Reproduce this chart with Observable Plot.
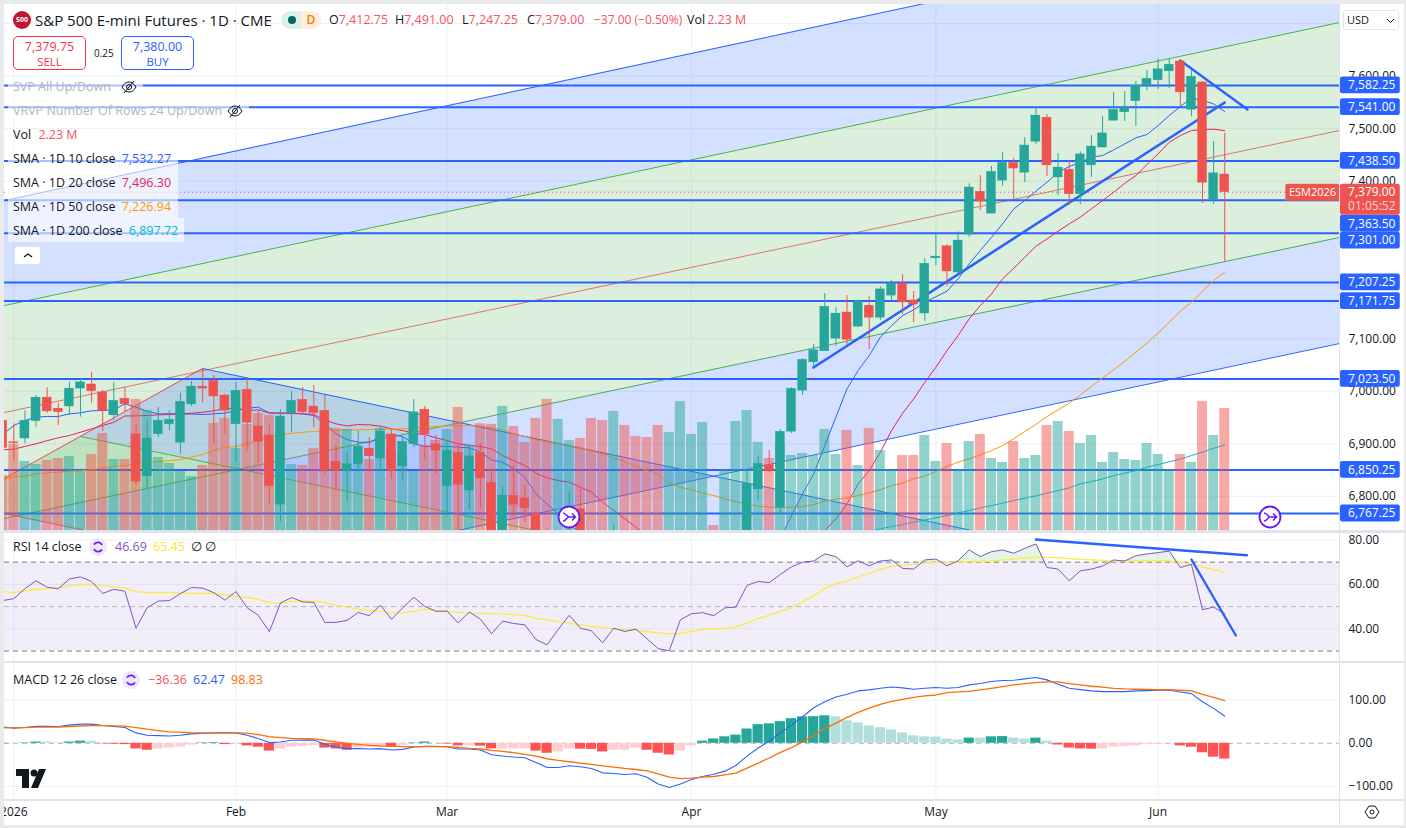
<!DOCTYPE html>
<html><head><meta charset="utf-8">
<script src="https://cdn.jsdelivr.net/npm/d3@7"></script>
<script src="https://cdn.jsdelivr.net/npm/@observablehq/plot@0.6"></script>
<style>
html,body{margin:0;padding:0;background:#e9eaec;width:1406px;height:828px;overflow:hidden}
#frame{position:absolute;left:4px;top:4px;width:1400px;height:821px;background:#fff;overflow:hidden}
#root{position:absolute;left:0;top:0;width:1406px;height:828px;font-family:"Open Sans",sans-serif;color:#131722;overflow:hidden}
#root svg.plot{position:absolute;left:0}
.t{position:absolute;white-space:nowrap;font-size:12.5px;line-height:16px}
.bg{position:absolute;background:rgba(255,255,255,.6)}
.sep{position:absolute;background:#e0e3eb}
.box{position:absolute;border-radius:5px;background:#fff;text-align:center;box-sizing:border-box}
</style></head><body>
<div id="frame"></div>
<div id="root"></div>
<script>
// ---------- price pane data: index -1 .. 109 (daily bars) ----------
const opens=[6944,6903,6910,6943,6988,6967,6971,7005,7013,6998,6954,
 6986,6918,6838,6918,6937,6902,6975,7009,7020,6992,
 6937,7003,6933,6916,6784,6958,6984,6971,6963,6866,
 6849,6861,6891,6872,6918,6857,6899,6965,6899,6819,
 6883,6811,6883,6826,6715,6801,6796,6766.6,6700,6670,
 6690,6775.5,6690,6660,6640,6700,6660,6650,6620,6560,
 6590,6670,6680,6700,6690,6700,6690,6813,6859,6778,
 6923,7001,7055,7076,7100,7150,7123,7163,7140,7182,
 7205,7173,7148,7253,7276,7226,7298,7380,7338,7401,
 7435,7416,7475,7521,7407,7422,7375,7430,7464,7515,
 7531,7552,7582,7592,7609,7628,7536,7588,7365,7412.75];
const closes=[6892,6901,6944,6988,6961.5,6960,7005,7017,7000,6963,6982,
 6975,6828,6910,6944,6946,6980,7009,7005,6990,6963,
 7001,6940,6904,6819,6952,6982,6960,6958,6849,6849,
 6861,6895,6876,6923,6849,6904,6960,6918,6887,6887,
 6822,6876,6834,6715,6801.5,6784,6777,6705,6670,6700,
 6725,6690,6660,6640,6700,6660,6650,6620,6580,6590,
 6670,6690,6700,6698,6710,6720,6823.7,6862,6849,6923,
 7005,7060,7078,7161,7148,7098,7171,7140,7194,7205,
 7169,7165,7243,7256.5,7228,7287,7388,7361,7418,7435,
 7424,7468,7525,7430,7426,7375,7451,7466,7491,7536,
 7540,7582,7595,7613,7622,7569,7599,7397,7415,7379];
const highs=[6954,6938,6963,6992,7007,6977,7017,7024,7036,7001.5,7017,
 7007,6935,6944,6969,6963,6996,7018.6,7043,7030,6994,
 7017,7026,6963,6935,6965,7000,7007,7011,6992,6897,
 6885,6925,6912,6931,6927,6912,6984,6971,6916,6906,
 6897,6897,6900.5,6853,6818.6,6858.6,6822,6768,6738,6725,
 6809,6813,6710,6700,6747,6720,6700,6670,6640,6600,
 6680,6700,6720,6705,6720,6730,6847,6876,6887,6927,
 7007,7062,7089,7186,7159,7182,7173,7180,7199,7211,
 7222,7190,7252,7300,7279,7303.5,7395,7411,7428,7454.5,
 7443,7483,7538,7527,7452.6,7439,7456,7487,7523,7569,
 7571,7590,7611,7632,7632,7630,7611,7590,7475.5,7491];
const lows=[6881,6867,6900,6932,6958,6935,6954,6951,6977,6923,6944,
 6961,6822.5,6815,6912,6925,6880,6971,6977,6899,6918,
 6864,6885,6862.5,6784.4,6752,6921.5,6958,6931,6841.5,6811,
 6790,6849,6847,6847,6832,6828,6893,6870,6841.5,6763,
 6735,6773,6776.7,6690,6680,6761.5,6750,6680,6650,6650,
 6670,6660,6640,6620,6620,6640,6620,6600,6560,6550,
 6580,6650,6660,6695,6660,6680,6670,6792,6845,6768.5,
 6919.5,6992,7044.6,7075.7,7085,7087,7121.4,7079.5,7134.7,7171,
 7146,7131,7133,7239,7199.4,7223.5,7293,7344,7338,7390,
 7364,7397,7470,7409,7373,7354,7355.5,7407,7464,7515.5,
 7513.6,7504,7572.6,7574.5,7576.4,7539.6,7523,7357.4,7355.5,7247.25];
const volumes=[1.005,1.572,1.261,1.206,1.28,1.316,1.353,1.078,1.389,1.773,1.298,
 1.298,2.395,2.193,1.334,1.225,1.078,0.987,1.188,1.956,2.047,
 1.499,1.938,2.139,2.102,1.791,1.206,1.188,1.499,1.864,1.864,
 1.846,1.353,1.298,1.864,1.462,1.389,1.078,1.554,1.645,1.846,
 2.248,1.554,1.95,1.938,2.267,1.901,1.609,2.047,2.395,2.029,
 1.645,1.682,2.047,2.011,2.175,1.919,1.718,1.7,1.919,1.791,
 2.358,1.755,1.974,0.091,1.115,1.992,2.193,1.609,1.316,1.554,
 1.371,1.407,1.371,1.846,1.389,1.828,1.188,1.864,1.462,1.115,
 1.371,1.371,1.736,1.261,1.59,1.115,1.627,1.755,1.316,1.243,
 1.627,1.316,1.371,1.919,1.992,1.81,1.59,1.736,1.243,1.426,
 1.298,1.28,1.59,1.389,1.115,1.389,1.243,2.358,1.736,2.23];
const _=null;
const sma10=[6917.7,6934.8,6944.4,6950.7,6952,6952,6957,6959,6962.8,6963.4,6964.7,
 6976,6969.7,6962,6957,6957,6957,6956.4,6955.8,6957,6958.3,
 6963.4,6967.8,6969.7,6959,6958.3,6958.3,6957,6953.9,6938,6919,
 6908,6903,6903,6912.6,6917.7,6913.9,6900,6895,6895,6895,
 6893.6,6892.3,6884,6869.4,6865,6852.3,6836.4,6804.7,6785.6,6766.6,
 6747.5,6728.5,_,_,_,_,_,_,_,_,
 _,_,_,_,_,_,_,_,_,6720,
 6763,6804.7,6842.7,6896.7,6950.6,7004.6,7039.5,7068,7103,7125,
 7144,7155,7169.6,7180,7190.5,7214,7242.6,7268,7293,7318.7,
 7347,7363,7380.9,7398,7417,7427.9,7435.5,7445.7,7448.8,7459.6,
 7471,7482.5,7488.8,7505.9,7525,7542,7558.6,7553.6,7547.2,7532.27];
const sma20=[6888.5,6889.8,6895,6900,6906,6911.4,6915.8,6922,6928.5,6934.8,6941,
 6953,6953,6953.9,6955,6955.8,6957,6958.3,6960,6963,6966.6,
 6967.8,6963,6964.7,6958.3,6958.3,6958.3,6957,6955.8,6945.6,6938,
 6934,6936.7,6936,6933.6,6928.5,6925.3,6920,6917.7,6911.4,6906,
 6900,6897.4,6894.8,6890.3,6877.6,6868,6858.6,6844,6835,6830,
 6826.9,6817.3,6807.8,6788.8,6773,6757,6741,6725.3,_,_,
 _,_,_,_,_,_,_,_,_,_,
 _,_,_,6735,6757,6785.6,6823.7,6849,6884,6925,
 6958,6985.5,7017,7045.8,7077.6,7106,7137.9,7163.3,7185,7214,
 7234,7255,7276,7290,7304.8,7318.7,7331.4,7347.3,7363,7379,
 7396,7410.7,7431.7,7452,7474,7486.9,7496.4,7498.3,7499,7496.3];
const sma50=[6832.7,6836.5,6838.4,6842.8,6844.7,6846,6847.9,6848.5,6850.4,6854,6856.8,
 6858.7,6860.6,6863.7,6866,6868,6870,6874.5,6879.6,6887,6893.6,
 6894.8,6900,6906,6914,6917.7,6920,6922,6923.4,6925.3,6926,
 6926.6,6926.8,6927,6927.4,6927.8,6928.5,6929.8,6931.7,6933,6933.6,
 6934.2,6934.2,6934,6930.3,6926.5,6918.9,6913.8,6907.5,6903.7,6899.9,
 6894.8,6891,6885.9,6880.8,6873.2,6866.2,6856.7,6849,6841.5,6825,
 6817.3,6812.3,6806,6801.5,6795.1,6789.4,6785.6,6781.2,6779.3,6778.6,
 6779.3,6780.5,6784.3,6790.7,6794.5,6797,6801.5,6806.6,6812.3,6820.5,
 6825,6833.2,6838.3,6847.2,6856.7,6865,6871.3,6879,6887,6896.7,
 6909.4,6923.3,6936.7,6951.9,6964.6,6977.3,6993.2,7009,7025.5,7040.8,
 7057.3,7074.4,7091.5,7110.6,7131.5,7152.5,7169.6,7190.5,7210.9,7226.94];
const sma200Start=77;
const sma200=[6733,6738,6742.4,6746,6750.7,6755,6759,6763.4,6768.5,6773,6778,6782.4,6786.9,6792,6796.4,6800.8,
 6806,6811,6816,6823.7,6828,6833,6839.6,6844,6849,6855.4,6860.5,6865.6,6870.7,6877.6,6884,6891.6,6897.72];
const priceTicks=[7600,7500,7400,7100,7000,6900,6800];
const gridPrices=[7700,7600,7500,7400,7300,7200,7100,7000,6900,6800];
const monthIdx=[0,20,39,61,83,103];
const monthLabels=["2026","Feb","Mar","Apr","May","Jun"];
const levels=[7582.25,7541,7438.5,7363.5,7301,7207.25,7171.75,7023.5,6850.25,6767.25];
const levelLabelAt=[7582.25,7541,7438.5,7319,7287,7207.25,7171.75,7023.5,6850.25,6767.25];
// channel anchors at left / right edge of the pane
const edgeX=[-0.84,119.33];
const chTop=[7363.2,7907.4], chUp=[7163.3,7702.1], chMid=[6959.6,7496.5], chLow=[6757.7,7292.8], chBot=[6552.1,7090.9];
// descending fan
const fanX=[6,16.98,88.8], fanTop=[6913.9,7043.3,6723.5], fanMid=[6913.9,6866.3,6552.1];
const fan2X=[-0.84,6,88.8], fan2Top=[6833.9,6913.9,6552.1], fan2Bot=[6767.3,6736.8,6367];
const trendRise={x:[71.98,109],y:[7045.2,7549.8]};
const trendFall={x:[105,111.05],y:[7629.8,7536.5]};
// ---------- RSI ----------
const rsi=[52.7,53.6,58.1,61.6,58.7,58.1,62.4,63.4,61.3,55.9,57.8,
 56.9,40.3,49.5,52.5,52.7,55.9,58.6,58.3,56.3,52.9,
 56.8,49.5,46.1,38.7,51.6,54.1,52.1,51.9,42.9,42.9,
 43.8,47.4,45.9,50.6,44.3,49.4,54.2,50.1,47.9,48,
 42.6,47.6,44.3,37.8,43.5,42.4,41.8,35.2,32.8,39.7,
 46.1,40.3,39.1,33.7,40.3,38.8,39.9,35.5,31.1,30.1,
 44.1,46.8,47.3,45.9,49.4,49.8,59.6,61.3,60.8,64.5,
 67.9,70,70.5,73.7,72.5,67.9,70.6,68.4,70.5,71,
 67.2,66.9,71,71.4,68.4,70.6,75.5,72.5,74.7,75.5,
 74,76.2,78.2,67.6,66.9,61.6,66.1,66.9,68.2,71,
 70.5,72.9,73.7,74.3,75,67.6,69,48.6,49.8,46.69];
const rsiMA=[56.8,56.3,57.1,57.7,58,58.4,59.3,59.9,60.1,59.3,58.9,
 58.3,56.8,56.3,56.3,56.3,56.2,56,56,55.9,55.3,
 54.7,54.1,53.3,51.8,51.5,52.4,52.5,52.5,51.8,50.7,
 49.8,48.9,48.3,47.9,47.1,47.3,47.9,48.8,48.3,47.9,
 47.4,47.1,47,46.8,46.7,46.4,45.9,44.7,44,43.2,
 42.6,41.8,41.1,40.5,40,39.6,39.3,38.8,38.2,37.6,
 37.9,38.8,39.7,39.9,40.2,40.9,42.6,44.6,46.2,47.9,
 49.5,52.1,54.8,58.1,60.4,61.6,63.3,64.9,66.7,68.1,
 68.7,69,69.7,69.9,69.9,70,70.2,70.3,70.5,71,
 71.4,71.9,72.2,72.2,72,71.6,71.3,71,70.8,70.6,
 70.6,70.6,70.6,70.6,70.6,69.9,69.1,67.9,66.7,65.45];
const rsiTicks=[80,60,40];
const rsiBands=[70,50,30];
const rsiTrendA={x:[92,111],y:[80.2,73.1]};
const rsiTrendB={x:[106,110],y:[71.2,37]};
// ---------- MACD ----------
const macdHist=[-1,-1,1,3,3,1,3,5,4.5,-1,-2,
 -3,-13,-16,-13,-11,-9,-4,1,1.5,-3,
 -1.5,-6,-9,-18,-13,-9,-7,-5,-11,-13,
 -16,-11,-9,-6,-9,-5,1,3,0.5,-1.5,
 -6,-6,-6.5,-13,-13,-13,-13,-18,-23,-20,
 -13,-13.5,-14,-20,-16,-16,-11,-16,-23,-27,
 -18,-6,5,10,15,19,33,43,45,50,
 57,61,61.5,63.5,61,52,47,40,36,31,
 24,17,15,14.5,10,8,12,12,15,15.5,
 12,10,12,5,-4,-11,-13,-13.5,-13,-8.5,
 -8,-6,-3,-3,-1,-6,-9,-22,-32,-36.36];
const macdLine=[38,34.9,36.4,39.5,39,38.8,41.9,44.2,44.2,41,38.8,
 36.4,24,18.6,17.8,17,18.6,21.7,23.3,24,24,
 24,18.6,10.9,1.6,3.1,7,7.4,7.8,-2.3,-9.3,
 -12.4,-12.4,-13.2,-12.4,-15.5,-14,-8.5,-7,-7,-7.8,
 -13.2,-13.2,-15.5,-26.4,-29.5,-31.8,-33.3,-44.2,-55.8,-55.8,
 -51.9,-54.3,-58.1,-68.2,-69.8,-72.1,-70.5,-78.3,-93.8,-102.3,
 -93.8,-83.7,-76.7,-71.3,-64.3,-51.2,-29.5,-10.9,4.7,24,
 41.9,61.2,82.2,96,107,113.2,121,123.3,127,130,
 128,124.8,127,128.7,127,128.7,135,138,142.6,145,
 145.7,148.8,152,146.5,136.4,127,124,121,119.4,119.4,
 119.4,121,121.7,122.5,122.5,118.6,114.7,96,80.6,62.47];
const macdSignal=[35.7,36,36.4,37.2,37.2,37.6,38.8,40,41,41,40.3,
 39.5,36.4,32.6,29.5,26.4,25.6,24,24,24,24,
 24,23.3,20,15.5,13.2,11.6,10.9,10,7,3.1,
 0,-2.3,-4.7,-6.2,-7,-7.8,-7.8,-7.8,-7.8,-7.8,
 -9.3,-11.6,-13.2,-16.3,-18.6,-21.7,-25.6,-29.5,-35.7,-39.5,
 -42.6,-45.7,-48.8,-51.9,-55,-58.1,-60.5,-63.6,-70.5,-78.3,
 -81.4,-80.6,-78.3,-76.7,-72.9,-69,-57.4,-45.7,-34,-21,
 -10,3.1,17,34,46.5,59.7,71.3,81.4,90,97,
 101.6,106.2,109.3,111.6,117,118.6,120,123.3,127,131,
 134.9,138,140.3,141.9,141.9,138,135,131.8,129.5,127,
 125.6,124.8,124.4,124,124,122.5,121,113,106.2,98.83];
const macdTicks=[100,0,-100];

for (const a of [opens,closes,highs,lows,volumes,sma10,sma20,sma50,rsi,rsiMA,macdHist,macdLine,macdSignal])
  if(a.length!==111) throw new Error("length "+a.length+" "+a.slice(0,2));

const UP="#26a69a",DOWN="#ef5350",BLUE="#2962ff",GRID="#eef0f5";
const FONT='"Open Sans",sans-serif';
const idx=d3.range(-1,110);
const bars=idx.map((i,k)=>({i,o:opens[k],c:closes[k],h:highs[k],l:lows[k],v:volumes[k],up:closes[k]>=opens[k]}));
const xScale={type:"linear",domain:edgeX,axis:null};
const fmt2=d3.format(",.2f");
const minus=s=>s.replace("-","−");
const root=document.getElementById("root");
function mount(svg,top){svg.classList.add("plot");svg.style.top=top+"px";svg.style.position="absolute";svg.style.background="transparent";svg.style.overflow="visible";root.appendChild(svg);}
const series=(arr,start=-1)=>arr.map((v,k)=>({i:k+start,v})).filter(d=>d.v!=null);
const pair=(xs,ys)=>xs.map((x,k)=>({x,y:ys[k]}));
const band=(xs,a,b)=>xs.map((x,k)=>({x,a:a[k],b:b[k]}));

// ---- main pane -----
const yMain=[6734.9,7736.4];
const volBase=yMain[0], volK=104.2;
const vline=(arr,stroke,w=1,op=1)=>Plot.line(series(arr,arr===sma200?sma200Start:-1),{x:"i",y:"v",stroke,strokeWidth:w,strokeOpacity:op,clip:true,curve:"linear"});
const chEdge=(ys,stroke,op=1)=>Plot.line(pair(edgeX,ys),{x:"x",y:"y",stroke,strokeWidth:1,strokeOpacity:op,clip:true});
const main=Plot.plot({
  width:1406,height:526,marginLeft:4,marginRight:67,marginTop:0,marginBottom:0,
  style:{fontFamily:FONT,fontSize:"12px",color:"#131722"},
  x:xScale,y:{domain:yMain,axis:null},
  marks:[
    Plot.ruleY(gridPrices,{stroke:GRID,clip:true}),
    Plot.ruleX(monthIdx,{stroke:GRID,clip:true}),
    Plot.areaY(band(edgeX,chTop,chUp),{x:"x",y1:"a",y2:"b",fill:BLUE,fillOpacity:.2,clip:true}),
    Plot.areaY(band(edgeX,chUp,chLow),{x:"x",y1:"a",y2:"b",fill:"#4caf50",fillOpacity:.2,clip:true}),
    Plot.areaY(band(edgeX,chLow,chBot),{x:"x",y1:"a",y2:"b",fill:BLUE,fillOpacity:.2,clip:true}),
    Plot.areaY(band(fanX,fanTop,fanMid),{x:"x",y1:"a",y2:"b",fill:BLUE,fillOpacity:.2,clip:true}),
    Plot.areaY(band(fan2X,fan2Top,fan2Bot),{x:"x",y1:"a",y2:"b",fill:"#4caf50",fillOpacity:.2,clip:true}),
    chEdge(chTop,BLUE),chEdge(chUp,"#4caf50"),chEdge(chMid,"#e0564e",.8),chEdge(chLow,"#4caf50"),chEdge(chBot,BLUE),
    Plot.line(pair([fanX[1],fanX[2]],[fanTop[1],fanTop[2]]),{x:"x",y:"y",stroke:BLUE,strokeWidth:1,clip:true}),
    Plot.line(pair(fanX,fanMid),{x:"x",y:"y",stroke:"#4caf50",strokeWidth:1,clip:true}),
    Plot.line(pair(fan2X,fan2Bot).filter((d,k)=>k!==1),{x:"x",y:"y",stroke:"#ef5350",strokeWidth:1,clip:true}),
    Plot.line(pair([edgeX[0],fanX[1]],[fan2Top[0],fanTop[1]]),{x:"x",y:"y",stroke:"#f2495c",strokeWidth:1,clip:true}),
    Plot.ruleY(levels,{stroke:BLUE,strokeWidth:2,clip:true}),
    Plot.ruleY([7379],{stroke:DOWN,strokeWidth:1,strokeDasharray:"1 3",clip:true}),
    Plot.line(pair(trendRise.x,trendRise.y),{x:"x",y:"y",stroke:BLUE,strokeWidth:2.6,clip:true}),
    Plot.line(pair(trendFall.x,trendFall.y),{x:"x",y:"y",stroke:BLUE,strokeWidth:2.4,clip:true}),
    vline(sma10,BLUE,1),vline(sma20,"#e91e63",1),vline(sma50,"#ff9800",1),vline(sma200,"#00bcd4",1),
    Plot.rect(bars,{x1:d=>d.i-.45,x2:d=>d.i+.45,y1:volBase,y2:d=>volBase+d.v*volK,fill:d=>d.up?UP:DOWN,fillOpacity:.5,clip:true}),
    Plot.ruleX(bars,{x:"i",y1:"l",y2:"h",stroke:d=>d.up?UP:DOWN,strokeWidth:1,clip:true}),
    Plot.rect(bars,{x1:d=>d.i-.41,x2:d=>d.i+.41,y1:"o",y2:"c",fill:d=>d.up?UP:DOWN,stroke:d=>d.up?UP:DOWN,strokeWidth:.3,clip:true}),
    // right price scale
    Plot.axisY(priceTicks,{anchor:"right",tickSize:0,tickPadding:9,tickFormat:fmt2,label:null,fill:"#131722",fontSize:12}),
    Plot.rect(levels.map((v,k)=>({v,at:levelLabelAt[k]})),{x1:119.42,x2:124.8,y1:d=>d.at-16,y2:d=>d.at+16,fill:BLUE,r:2}),
    Plot.text(levels.map((v,k)=>({v,at:levelLabelAt[k]})),{x:120.1,y:"at",text:d=>fmt2(d.v),fill:"#fff",textAnchor:"start",fontSize:12}),
    Plot.rect([7379],{x1:114.5,x2:119.33,y1:7379-17,y2:7379+15,fill:DOWN,r:2}),
    Plot.text(["ESM2026"],{x:116.9,y:[7379],fill:"#fff",fontSize:11}),
    Plot.rect([7379],{x1:119.42,x2:124.8,y1:7379-44,y2:7379+15,fill:DOWN,r:2}),
    Plot.text(["7,379.00"],{x:120.1,y:[7379],fill:"#fff",textAnchor:"start",fontSize:12}),
    Plot.text(["01:05:52"],{x:120.1,y:[7379-27],fill:"#ffd5d2",textAnchor:"start",fontSize:12})
  ]
});
mount(main,4);

// ---- RSI pane -----
const rsiData=idx.map((i,k)=>({i,r:rsi[k],m:rsiMA[k]}));
const rsiPlot=Plot.plot({
  width:1406,height:128,marginLeft:4,marginRight:67,marginTop:0,marginBottom:0,
  style:{fontFamily:FONT,fontSize:"12px",color:"#131722"},
  x:xScale,y:{domain:[25.3,82.9],axis:null},
  marks:[
    Plot.ruleY(rsiTicks,{stroke:GRID}),
    Plot.ruleX(monthIdx,{stroke:GRID,clip:true}),
    Plot.areaY(band(edgeX,[rsiBands[2],rsiBands[2]],[rsiBands[0],rsiBands[0]]),{x:"x",y1:"a",y2:"b",fill:"#7e57c2",fillOpacity:.1,clip:true}),
    Plot.ruleY([70,30],{stroke:"#787b86",strokeDasharray:"5 4",clip:true}),
    Plot.ruleY([50],{stroke:"#b2b5be",strokeDasharray:"5 4",clip:true}),
    Plot.areaY(rsiData,{x:"i",y1:70,y2:d=>Math.max(70,d.r),fill:"#4caf50",fillOpacity:.14,clip:true}),
    Plot.line(rsiData,{x:"i",y:"m",stroke:"#fdeb3f",strokeWidth:1.3,clip:true}),
    Plot.line(rsiData,{x:"i",y:"r",stroke:"#7e57c2",strokeWidth:1,clip:true}),
    Plot.line(pair(rsiTrendA.x,rsiTrendA.y),{x:"x",y:"y",stroke:BLUE,strokeWidth:2.4,clip:true}),
    Plot.line(pair(rsiTrendB.x,rsiTrendB.y),{x:"x",y:"y",stroke:BLUE,strokeWidth:2.4,clip:true}),
    Plot.axisY(rsiTicks,{anchor:"right",tickSize:0,tickPadding:9,tickFormat:fmt2,label:null,fill:"#131722",fontSize:12})
  ]
});
mount(rsiPlot,533);

// ---- MACD pane with the time axis -----
const macdData=idx.map((i,k)=>{const v=macdHist[k],p=k?macdHist[k-1]:0;
  return {i,v,line:macdLine[k],sig:macdSignal[k],
    col:v>=0?(v>p?UP:"#b2dfdb"):(v<p?"#ff5252":"#ffcdd2")};});
const macdPlot=Plot.plot({
  width:1406,height:162,marginLeft:4,marginRight:67,marginTop:0,marginBottom:26,
  style:{fontFamily:FONT,fontSize:"12px",color:"#131722"},
  x:xScale,y:{domain:[-129.8,184.3],axis:null},
  marks:[
    Plot.ruleY([100,-100],{stroke:GRID}),
    Plot.ruleX(monthIdx,{stroke:GRID,clip:true}),
    Plot.ruleY([0],{stroke:"#b2b5be",strokeDasharray:"5 4",clip:true}),
    Plot.rect(macdData,{x1:d=>d.i-.46,x2:d=>d.i+.46,y1:0,y2:"v",fill:"col",clip:true}),
    Plot.line(macdData,{x:"i",y:"line",stroke:BLUE,strokeWidth:1.1,clip:true}),
    Plot.line(macdData,{x:"i",y:"sig",stroke:"#ff6d00",strokeWidth:1.3,clip:true}),
    Plot.axisY(macdTicks,{anchor:"right",tickSize:0,tickPadding:9,tickFormat:d=>minus(fmt2(d)),label:null,fill:"#131722",fontSize:12}),
    Plot.axisX(monthIdx,{anchor:"bottom",tickSize:0,tickPadding:8,tickFormat:(d,k)=>monthLabels[monthIdx.indexOf(d)],label:null,fill:"#131722",fontSize:12})
  ]
});
mount(macdPlot,663);

// ---- overlays (legend, buttons, separators) -----
function div(cls,style,html){const d=document.createElement("div");d.className=cls;Object.assign(d.style,style);if(html!=null)d.innerHTML=html;root.appendChild(d);return d;}
const T=(x,y,s,col,extra={})=>div("t",Object.assign({left:x+"px",top:(y-8)+"px",color:col||"#131722"},extra),s);
// separators
div("sep",{left:"1339px",top:"4px",width:"1px",height:"821px"});
div("sep",{left:"4px",top:"530px",width:"1400px",height:"3px"});
div("sep",{left:"4px",top:"661px",width:"1400px",height:"2px"});
div("sep",{left:"4px",top:"799px",width:"1400px",height:"2px"});
// outer page strips
div("",{position:"absolute",left:"0",top:"0",width:"4px",height:"828px",background:"#e9eaec"});
div("",{position:"absolute",left:"0",top:"0",width:"1406px",height:"4px",background:"#e9eaec"});
div("",{position:"absolute",left:"1404px",top:"0",width:"2px",height:"828px",background:"#e9eaec"});
div("",{position:"absolute",left:"0",top:"825px",width:"1406px",height:"3px",background:"#e9eaec"});
// backdrops
div("bg",{left:"8px",top:"77px",width:"135px",height:"18px"});
div("bg",{left:"8px",top:"101px",width:"241px",height:"18px"});
div("bg",{left:"8px",top:"149px",width:"170px",height:"69px"});
div("bg",{left:"8px",top:"218px",width:"176px",height:"24px"});
// header
div("",{position:"absolute",left:"13px",top:"11px",width:"18px",height:"18px",borderRadius:"50%",background:"#c2152f",color:"#fff",fontSize:"7px",fontWeight:"700",textAlign:"center",lineHeight:"18px"},"500");
T(35,20,"S&amp;P 500 E-mini Futures · 1D · CME","#131722",{fontSize:"15px"});
div("",{position:"absolute",left:"281px",top:"11px",width:"20px",height:"18px",borderRadius:"9px 0 0 9px",background:"#daf0ec"});
div("",{position:"absolute",left:"288px",top:"16px",width:"8px",height:"8px",borderRadius:"50%",background:"#00695c"});
div("",{position:"absolute",left:"301px",top:"11px",width:"20px",height:"18px",borderRadius:"0 9px 9px 0",background:"#ffeedb",color:"#f57c00",fontSize:"12px",lineHeight:"18px",textAlign:"center",fontWeight:"600"},"D");
const R="#f7525f";
[[329,"O","7,412.75"],[395,"H","7,491.00"],[462,"L","7,247.25"],[527,"C","7,379.00"]].forEach(([x,a,b])=>T(x,20,`${a}<span style="color:${R}">${b}</span>`,"#131722",{fontSize:"12.5px"}));
T(594,20,"−37.00 (−0.50%)",R,{fontSize:"12px"});
T(687,20,`Vol<span style="color:${R};margin-left:2px">2.23 M</span>`,"#131722",{fontSize:"12.5px"});
// sell / buy
div("box",{left:"13px",top:"36px",width:"73px",height:"34px",border:"1px solid #f23645",color:"#f23645",fontSize:"12.5px",lineHeight:"15px",paddingTop:"2px"},"7,379.75<br><span style='font-size:11.5px'>SELL</span>");
T(94,53,"0.25","#131722",{fontSize:"10px"});
div("box",{left:"121px",top:"36px",width:"73px",height:"34px",border:"1px solid #2962ff",color:"#2962ff",fontSize:"12.5px",lineHeight:"15px",paddingTop:"2px"},"7,380.00<br><span style='font-size:11.5px'>BUY</span>");
// legend rows
const eye=(x,y)=>div("",{position:"absolute",left:(x-8)+"px",top:(y-8)+"px",width:"16px",height:"16px"},`<svg width="16" height="16" viewBox="0 0 16 16" fill="none" stroke="#131722" stroke-width="1"><path d="M1 8c2-3.5 4.5-5 7-5s5 1.500 7 5c-2 3.500-4.500 5-7 5s-5-1.500-7-5z"/><circle cx="8" cy="8" r="2.500"/><path d="M3 14L13 2"/></svg>`);
T(13,87,"SVP All Up/Down","#b2b5be");eye(129,86);
T(13,111,"VRVP Number Of Rows 24 Up/Down","#b2b5be");eye(235,110);
T(13,135,`Vol <span style="color:${R};margin-left:4px">2.23 M</span>`);
T(13,159,`SMA · 1D 10 close <span style="color:#2962ff;margin-left:3px">7,532.27</span>`);
T(13,183,`SMA · 1D 20 close <span style="color:#e91e63;margin-left:3px">7,496.30</span>`);
T(13,207,`SMA · 1D 50 close <span style="color:#ff9800;margin-left:3px">7,226.94</span>`);
T(13,231,`SMA · 1D 200 close <span style="color:#00bcd4;margin-left:3px">6,897.72</span>`);
div("",{position:"absolute",left:"14px",top:"246px",width:"27px",height:"19px",background:"#fff",border:"1px solid #e0e3eb",borderRadius:"3px",boxSizing:"border-box",textAlign:"center"},`<svg width="12" height="17" viewBox="0 0 12 17" fill="none" stroke="#131722" stroke-width="1.300"><path d="M2 10l4-3 4 3"/></svg>`);
// USD
div("",{position:"absolute",left:"1343px",top:"10px",width:"56px",height:"20px",border:"1px solid #e0e3eb",borderRadius:"3px",boxSizing:"border-box"});
T(1347,20,"USD","#131722",{fontSize:"11px"});
T(1386,20,`<svg width="9" height="6" viewBox="0 0 9 6" fill="none" stroke="#131722"><path d="M1 1l3.500 3.500L8 1"/></svg>`);
// round event icons
const ev=(x,y)=>div("",{position:"absolute",left:(x-12)+"px",top:(y-12)+"px",width:"24px",height:"24px"},`<svg width="24" height="24" viewBox="0 0 24 24" fill="none"><circle cx="12" cy="12" r="10.500" fill="#fff" stroke="#6a1bf0" stroke-width="1.800"/><path d="M6 8c3 0 4 4 6 4h6M6 16c3 0 4-4 6-4M15 8.500l3.500 3.500-3.500 3.500" stroke="#6a1bf0" stroke-width="1.500"/></svg>`);
ev(569,517);ev(1270,517);
// pane legends
const ring=(x,y)=>div("",{position:"absolute",left:(x-9)+"px",top:(y-9)+"px",width:"18px",height:"18px",borderRadius:"50%",background:"#ede7f6"},`<svg width="18" height="18" viewBox="0 0 18 18" fill="none" stroke="#651fff" stroke-width="1.800"><path d="M13 7a4.500 4.500 0 0 0-8-.5M5 11a4.500 4.500 0 0 0 8 .5"/></svg>`);
T(13,547,"RSI 14 close");ring(98,547);
T(115,547,"46.69","#7e57c2");T(153,547,"65.45","#fbe43a");T(191,547,"∅");T(205,547,"∅");
T(13,680,"MACD 12 26 close");ring(131,680);
T(148,680,"−36.36","#f7525f");T(193,680,"62.47","#2962ff");T(231,680,"98.83","#ff6d00");
// logo + gear
div("",{position:"absolute",left:"15px",top:"768px",width:"32px",height:"20px"},`<svg width="32" height="20" viewBox="0 0 32 20" fill="#131722"><path d="M1 1h13v19H7V8H1z"/><circle cx="19" cy="5" r="3.500"/><path d="M24 1h7l-8 19h-7z"/></svg>`);
div("",{position:"absolute",left:"1364px",top:"803px",width:"16px",height:"16px"},`<svg width="16" height="16" viewBox="0 0 16 16" fill="none" stroke="#131722"><path d="M5 2h6l4 6-4 6H5L1 8z"/><circle cx="8" cy="8" r="2"/></svg>`);
</script>
</body></html>
